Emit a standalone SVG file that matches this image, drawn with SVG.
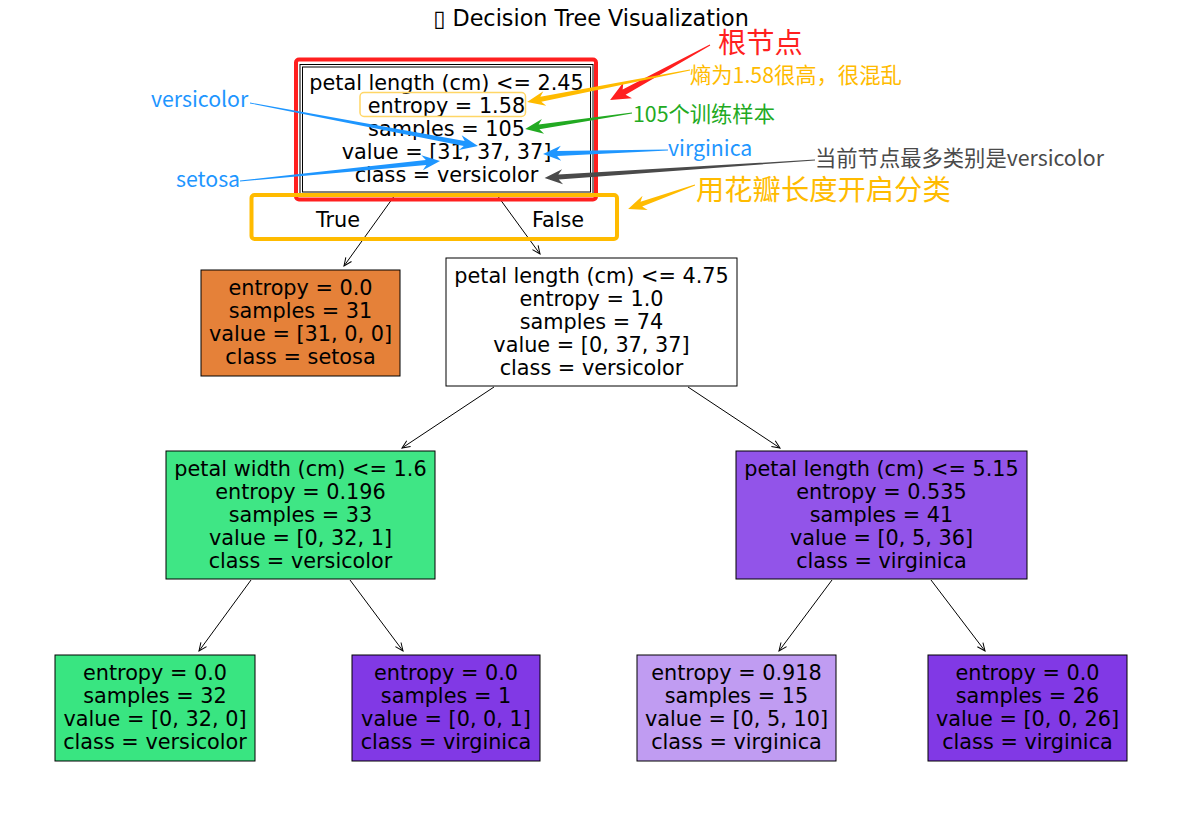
<svg xmlns="http://www.w3.org/2000/svg" width="1182" height="814" viewBox="0 0 1182 814">
<style>
.t{font-family:"DejaVu Sans",sans-serif;font-size:20.8px;fill:#000;text-anchor:middle}
.ti{font-family:"DejaVu Sans",sans-serif;font-size:22.3px;fill:#000;text-anchor:middle}
.a{font-family:"Noto Sans CJK SC",sans-serif;font-size:21.3px}
.ab{font-family:"Noto Sans CJK SC",sans-serif;font-size:28.3px}
.box{stroke:#000;stroke-width:1}
.edge{stroke:#000;stroke-width:1;fill:none;marker-end:url(#ah)}
.red{fill:#ff1f1f}.org{fill:#ffbb00}.grn{fill:#22aa22}.blu{fill:#1e96ff}.gry{fill:#4a4a4a}
</style>
<defs>
<marker id="ah" markerUnits="userSpaceOnUse" markerWidth="12" markerHeight="12" viewBox="-10 -6 12 12" refX="0" refY="0" orient="auto">
<path d="M-8,-3.5 L0,0 L-8,3.5" fill="none" stroke="#000" stroke-width="1"/>
</marker>
</defs>
<rect width="1182" height="814" fill="#fff"/>
<text class="ti" x="591" y="26">▯ Decision Tree Visualization</text>

<g id="connectors">
<line class="edge" x1="395" y1="195" x2="344" y2="266"/>
<line class="edge" x1="497" y1="195" x2="540" y2="254"/>
<line class="edge" x1="494" y1="387" x2="402" y2="448"/>
<line class="edge" x1="688" y1="387" x2="780" y2="448"/>
<line class="edge" x1="251" y1="580" x2="199" y2="651"/>
<line class="edge" x1="350" y1="580" x2="403" y2="651"/>
<line class="edge" x1="832" y1="580" x2="779" y2="651"/>
<line class="edge" x1="931" y1="580" x2="985" y2="651"/>
<text class="t" x="338" y="227">True</text>
<text class="t" x="558" y="227">False</text>
</g>

<g id="root">
<rect class="box" x="300" y="64.5" width="293" height="130" fill="#fff"/>
<rect class="box" x="302.5" y="67" width="288" height="125" fill="none"/>
<text class="t" x="446.5" y="89.5">petal length (cm) &lt;= 2.45</text>
<text class="t" x="446.5" y="112.7">entropy = 1.58</text>
<text class="t" x="446.5" y="135.9">samples = 105</text>
<text class="t" x="446.5" y="159.1">value = [31, 37, 37]</text>
<text class="t" x="446.5" y="182.3">class = versicolor</text>
</g>

<g id="n_setosa">
<rect class="box" x="201" y="270" width="199" height="106" fill="#e58139"/>
<text class="t" x="300.5" y="294.5">entropy = 0.0</text>
<text class="t" x="300.5" y="317.7">samples = 31</text>
<text class="t" x="300.5" y="340.9">value = [31, 0, 0]</text>
<text class="t" x="300.5" y="364.1">class = setosa</text>
</g>

<g id="n2">
<rect class="box" x="446" y="258" width="291" height="128" fill="#fff"/>
<text class="t" x="591.5" y="282.5">petal length (cm) &lt;= 4.75</text>
<text class="t" x="591.5" y="305.7">entropy = 1.0</text>
<text class="t" x="591.5" y="328.9">samples = 74</text>
<text class="t" x="591.5" y="352.1">value = [0, 37, 37]</text>
<text class="t" x="591.5" y="375.3">class = versicolor</text>
</g>

<g id="n3">
<rect class="box" x="166" y="451" width="269" height="128" fill="#3fe685"/>
<text class="t" x="300.5" y="475.5">petal width (cm) &lt;= 1.6</text>
<text class="t" x="300.5" y="498.7">entropy = 0.196</text>
<text class="t" x="300.5" y="521.9">samples = 33</text>
<text class="t" x="300.5" y="545.1">value = [0, 32, 1]</text>
<text class="t" x="300.5" y="568.3">class = versicolor</text>
</g>

<g id="n4">
<rect class="box" x="736" y="451" width="291" height="128" fill="#9254e9"/>
<text class="t" x="881.5" y="475.5">petal length (cm) &lt;= 5.15</text>
<text class="t" x="881.5" y="498.7">entropy = 0.535</text>
<text class="t" x="881.5" y="521.9">samples = 41</text>
<text class="t" x="881.5" y="545.1">value = [0, 5, 36]</text>
<text class="t" x="881.5" y="568.3">class = virginica</text>
</g>

<g id="leaf1">
<rect class="box" x="55" y="655" width="200" height="106" fill="#39e581"/>
<text class="t" x="155" y="679.5">entropy = 0.0</text>
<text class="t" x="155" y="702.7">samples = 32</text>
<text class="t" x="155" y="725.9">value = [0, 32, 0]</text>
<text class="t" x="155" y="749.1">class = versicolor</text>
</g>

<g id="leaf2">
<rect class="box" x="352" y="655" width="188" height="106" fill="#8139e5"/>
<text class="t" x="446" y="679.5">entropy = 0.0</text>
<text class="t" x="446" y="702.7">samples = 1</text>
<text class="t" x="446" y="725.9">value = [0, 0, 1]</text>
<text class="t" x="446" y="749.1">class = virginica</text>
</g>

<g id="leaf3">
<rect class="box" x="637" y="655" width="199" height="106" fill="#c09cf2"/>
<text class="t" x="736.5" y="679.5">entropy = 0.918</text>
<text class="t" x="736.5" y="702.7">samples = 15</text>
<text class="t" x="736.5" y="725.9">value = [0, 5, 10]</text>
<text class="t" x="736.5" y="749.1">class = virginica</text>
</g>

<g id="leaf4">
<rect class="box" x="928" y="655" width="199" height="106" fill="#8139e5"/>
<text class="t" x="1027.5" y="679.5">entropy = 0.0</text>
<text class="t" x="1027.5" y="702.7">samples = 26</text>
<text class="t" x="1027.5" y="725.9">value = [0, 0, 26]</text>
<text class="t" x="1027.5" y="749.1">class = virginica</text>
</g>

<g id="highlights">
<rect x="296" y="59.5" width="300" height="140" rx="3" fill="none" stroke="#ff1f1f" stroke-width="4"/>
<rect x="251.5" y="195" width="365.5" height="44" rx="3" fill="none" stroke="#ffbb00" stroke-width="4"/>
<rect x="360" y="92.5" width="165.5" height="24" rx="4" fill="none" stroke="#ffd666" stroke-width="1.5"/>
</g>

<g id="annotations">
<polygon class="red" transform="translate(710,45) rotate(151.2)" points="0,-0.5 98,-3 94,-9 114,0 94,9 98,3 0,0.5"/>
<polygon class="org" transform="translate(690,70) rotate(168.9)" points="0,-0.4 152,-2.5 148,-7.5 166,0 148,7.5 152,2.5 0,0.4"/>
<polygon class="grn" transform="translate(632,113) rotate(171.5)" points="0,-0.4 94,-2.5 90,-7.5 108,0 90,7.5 94,2.5 0,0.4"/>
<polygon class="blu" transform="translate(668,150) rotate(178.2)" points="0,-0.4 111,-2.5 107,-7.5 125,0 107,7.5 111,2.5 0,0.4"/>
<polygon class="gry" transform="translate(815,160) rotate(176.2)" points="0,-0.4 257,-2.5 253,-7.5 271,0 253,7.5 257,2.5 0,0.4"/>
<polygon class="org" transform="translate(695,185) rotate(160.3)" points="0,-0.4 57,-2.5 53,-7.5 71,0 53,7.5 57,2.5 0,0.4"/>
<polygon class="blu" transform="translate(250,103) rotate(10.7)" points="0,-0.4 218,-2.5 214,-7.5 232,0 214,7.5 218,2.5 0,0.4"/>
<polygon class="blu" transform="translate(240,181) rotate(-5.7)" points="0,-0.4 187,-2.5 183,-7.5 201,0 183,7.5 187,2.5 0,0.4"/>
<text class="ab red" x="718" y="53">根节点</text>
<text class="a org" x="690" y="83">熵为1.58很高，很混乱</text>
<text class="a grn" x="633" y="122">105个训练样本</text>
<text class="a blu" x="668" y="156">virginica</text>
<text class="a gry" x="815" y="166">当前节点最多类别是versicolor</text>
<text class="ab org" x="696" y="200">用花瓣长度开启分类</text>
<text class="a blu" x="151" y="107">versicolor</text>
<text class="a blu" x="176" y="187">setosa</text>
</g>
</svg>
